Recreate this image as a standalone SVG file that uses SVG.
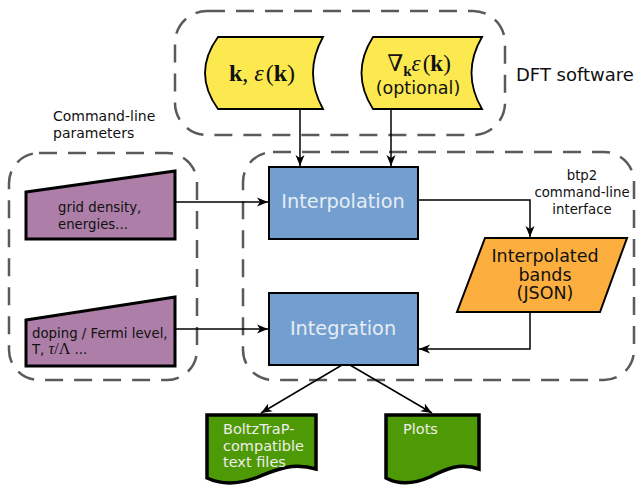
<svg xmlns="http://www.w3.org/2000/svg" width="637" height="487" viewBox="0 0 637 487">
  <defs>
    <marker id="arrow" viewBox="0 0 12 10" markerWidth="12" markerHeight="10" refX="11" refY="5" orient="auto" markerUnits="userSpaceOnUse">
      <path d="M0,0.5 L11,5 L0,9.5 L3,5 Z" fill="#000"/>
    </marker>
  </defs>
  <style>
    .group { fill: none; stroke: #5a5a5a; stroke-width: 2.5; stroke-dasharray: 18 11; }
    .data { fill: #fce94f; stroke: #000; stroke-width: 1.8; }
    .input { fill: #ad7fa8; stroke: #000; stroke-width: 3; }
    .proc { fill: #729fcf; stroke: #000; stroke-width: 2; }
    .json { fill: #fcaf3e; stroke: #000; stroke-width: 2; }
    .doc { fill: #4e9a06; stroke: #000; stroke-width: 3.5; }
    .conn { fill: none; stroke: #000; stroke-width: 1.5; }
    .sans { font-family: "DejaVu Sans", "Liberation Sans", sans-serif; }
    .math { font-family: "Liberation Serif", "DejaVu Serif", serif; }
    .label { font-size: 13.3px; fill: #111; }
    .proclabel { font-size: 19.3px; fill: #e6edf5; text-anchor: middle; }
    .doclabel { font-size: 14.5px; fill: #eeeeec; }
    .jsonlabel { font-size: 17.5px; fill: #111; text-anchor: middle; }
  </style>

  <!-- dashed grouping frames -->
  <g id="frames">
    <rect class="group" x="175" y="11" width="330" height="124" rx="32"/>
    <rect class="group" x="9" y="153" width="188" height="227" rx="30"/>
    <rect class="group" x="243" y="152" width="391" height="228" rx="30"/>
  </g>

  <!-- frame captions -->
  <text class="sans" x="516" y="81" font-size="18" fill="#111">DFT software</text>
  <text class="sans" x="53" y="121" font-size="14" fill="#111">Command-line</text>
  <text class="sans" x="53" y="138" font-size="14" fill="#111">parameters</text>
  <text class="sans label" text-anchor="middle" x="582" y="180">btp2</text>
  <text class="sans label" text-anchor="middle" x="582" y="197">command-line</text>
  <text class="sans label" text-anchor="middle" x="582" y="214">interface</text>

  <!-- connectors -->
  <g id="connectors">
    <line class="conn" x1="300" y1="109" x2="300" y2="166" marker-end="url(#arrow)"/>
    <line class="conn" x1="391" y1="109" x2="391" y2="166" marker-end="url(#arrow)"/>
    <line class="conn" x1="175" y1="202" x2="268" y2="202" marker-end="url(#arrow)"/>
    <line class="conn" x1="175" y1="329" x2="268" y2="329" marker-end="url(#arrow)"/>
    <polyline class="conn" points="418,200 530,200 530,237" marker-end="url(#arrow)"/>
    <polyline class="conn" points="530,312 530,349 419,349" marker-end="url(#arrow)"/>
    <line class="conn" x1="342" y1="365" x2="261" y2="413" marker-end="url(#arrow)"/>
    <line class="conn" x1="350" y1="365" x2="432" y2="413" marker-end="url(#arrow)"/>
  </g>

  <!-- DFT inputs -->
  <g id="kpoints">
    <path class="data" d="M218,37 H323 Q303,73 323,109 H218 Q192,73 218,37 Z"/>
    <text class="math" x="262" y="81" font-size="24" text-anchor="middle" fill="#111"><tspan font-weight="bold">k</tspan>,<tspan dx="6" font-style="italic">ε</tspan><tspan dx="2">(</tspan><tspan font-weight="bold">k</tspan>)</text>
  </g>
  <g id="gradient">
    <path class="data" d="M373,37 H482 Q461,73 482,109 H373 Q350,73 373,37 Z"/>
    <text class="math" x="419" y="71" font-size="23" text-anchor="middle" fill="#111">∇<tspan font-weight="bold" font-size="15" dy="5">k</tspan><tspan font-style="italic" dy="-5">ε</tspan><tspan dx="2">(</tspan><tspan font-weight="bold">k</tspan>)</text>
    <text class="sans" x="418" y="94" font-size="17.5" text-anchor="middle" fill="#111">(optional)</text>
  </g>

  <!-- command-line parameters -->
  <g id="grid-params">
    <path class="input" d="M26,192 L175,171 V239 H26 Z"/>
    <text class="sans label" x="58" y="212">grid density,</text>
    <text class="sans label" x="58" y="229">energies...</text>
  </g>
  <g id="doping-params">
    <path class="input" d="M26,320 L175,297 V366 H26 Z"/>
    <text class="sans label" x="32" y="338">doping / Fermi level,</text>
    <text class="sans label" x="32" y="354">T, <tspan class="math" font-style="italic" font-size="16">τ</tspan><tspan class="math" font-size="16">/Λ</tspan> ...</text>
  </g>

  <!-- processing steps -->
  <g id="interpolation">
    <rect class="proc" x="269" y="167" width="149" height="72"/>
    <text class="sans proclabel" x="343" y="208">Interpolation</text>
  </g>
  <g id="integration">
    <rect class="proc" x="269" y="293" width="149" height="72"/>
    <text class="sans proclabel" x="343" y="335">Integration</text>
  </g>

  <!-- intermediate data -->
  <g id="bands">
    <path class="json" d="M485,238 H627 L600,312 H457 Z"/>
    <text class="sans jsonlabel" x="545" y="262">Interpolated</text>
    <text class="sans jsonlabel" x="545" y="280.5">bands</text>
    <text class="sans jsonlabel" x="545" y="299">(JSON)</text>
  </g>

  <!-- outputs -->
  <g id="text-files">
    <path class="doc" d="M207,415 H316 V469 C292,462 275,470 258,477 C240,484 222,485 207,478 Z"/>
    <text class="sans doclabel" x="223" y="434">BoltzTraP-</text>
    <text class="sans doclabel" x="223" y="451">compatible</text>
    <text class="sans doclabel" x="223" y="467">text files</text>
  </g>
  <g id="plots">
    <path class="doc" d="M386,415 H479 V469 C458,462 444,470 430,477 C414,484 399,485 386,478 Z"/>
    <text class="sans doclabel" x="403" y="434">Plots</text>
  </g>
</svg>
